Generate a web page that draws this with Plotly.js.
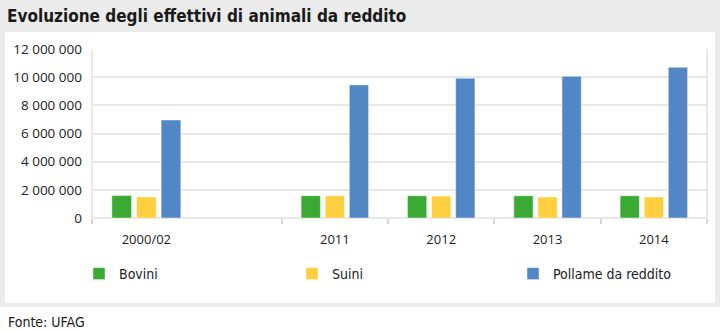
<!DOCTYPE html>
<html>
<head>
<meta charset="utf-8">
<script src="https://cdn.plot.ly/plotly-3.0.1.min.js"></script>
<style>html,body{margin:0;padding:0;background:#fff;}#chart{width:720px;height:332px;}</style>
</head>
<body>
<div id="chart"></div>
<script>
// ---- data ----
const categories = ["2000/02", "2011", "2012", "2013", "2014"];
const seriesNames = ["Bovini", "Suini", "Pollame da reddito"];
const bovini = [1590000, 1585000, 1580000, 1580000, 1580000];
const suini = [1500000, 1580000, 1560000, 1490000, 1490000];
const pollame = [6960000, 9450000, 9920000, 10060000, 10700000];
const titleText = "Evoluzione degli effettivi di animali da reddito";
const sourceText = "Fonte: UFAG";

// ---- layout constants ----
const W = 720, H = 332;
const M = {l: 92, r: 13, t: 49, b: 114};
const PW = W - M.l - M.r, PH = H - M.t - M.b;
const px2x = p => (p - M.l) / PW;
const px2y = p => (H - M.b - p) / PH;
const colors = ["#3aaa35", "#ffcf3f", "#5287c6"];
const legendIds = ["legend", "legend", "legend2"];
const gridColor = "#e8e8e8";
const seriesValues = [bovini, suini, pollame];

const firstCats = categories.slice(0, 1);
const laterCats = categories.slice(1);

const traces = [];
// empty helper trace so the full-width subplot (carrying the y grid) exists
traces.push({type: "scatter", mode: "none", x: [], y: [], xaxis: "x", yaxis: "y",
             showlegend: false, hoverinfo: "skip"});
seriesValues.forEach((vals, i) => {
  traces.push({
    type: "bar", name: seriesNames[i], x: firstCats, y: vals.slice(0, 1),
    xaxis: "x2", yaxis: "y", legendgroup: seriesNames[i], showlegend: false,
    marker: {color: colors[i], line: {color: "rgba(255,255,255,0.45)", width: 1}},
    hoverinfo: "skip"
  });
  traces.push({
    type: "bar", name: seriesNames[i], x: laterCats, y: vals.slice(1),
    xaxis: "x3", yaxis: "y", legendgroup: seriesNames[i], showlegend: true,
    legend: legendIds[i],
    marker: {color: colors[i], line: {color: "rgba(255,255,255,0.45)", width: 1}},
    hoverinfo: "skip"
  });
});

const catAxis = (domain) => ({
  type: "category", domain: domain, anchor: "y",
  tickson: "boundaries", ticks: "outside", ticklen: 5, tickwidth: 2, tickcolor: "#d6d6d6",
  showgrid: false, showline: false, zeroline: false,
  tickfont: {family: "Open Sans", size: 13, color: "#222"},
  ticklabelstandoff: 12, fixedrange: true
});

const legendBase = (xpx, ew) => ({
  orientation: "h", xref: "paper", yref: "paper",
  x: px2x(xpx), xanchor: "left", y: px2y(274), yanchor: "middle",
  entrywidth: ew, entrywidthmode: "pixels",
  font: {family: "DejaVu Sans Condensed", size: 14, color: "#222"},
  bgcolor: "rgba(0,0,0,0)", traceorder: "normal", borderwidth: 0
});

const layout = {
  width: W, height: H,
  margin: M,
  paper_bgcolor: "#ebebeb",
  plot_bgcolor: "rgba(0,0,0,0)",
  separators: ", ",
  barmode: "group", bargap: 0.32, bargroupgap: 0.2,
  showlegend: true,
  title: {
    text: titleText, xref: "container", yref: "container",
    x: 7 / W, xanchor: "left", y: 1 - 16 / H, yanchor: "middle",
    font: {family: "DejaVu Sans Condensed", size: 17, weight: "bold", color: "#1a1a1a"}
  },
  xaxis: {domain: [0, 1], range: [0, 1], type: "linear", anchor: "y", fixedrange: true,
          showticklabels: false, ticks: "", showgrid: false, zeroline: false, showline: false},
  xaxis2: catAxis([0, px2x(200.7)]),
  xaxis3: catAxis([px2x(281.7), 1]),
  yaxis: {
    anchor: "x", range: [0, 12000000], dtick: 2000000, tick0: 0,
    tickformat: ",d", showgrid: true, gridcolor: gridColor, gridwidth: 2,
    zeroline: true, zerolinecolor: gridColor, zerolinewidth: 2,
    showline: false, ticks: "", ticklabelstandoff: 9,
    tickfont: {family: "Open Sans", size: 13.5, color: "#222"}, fixedrange: true
  },
  legend: legendBase(79, 168),
  legend2: legendBase(513, 0),
  shapes: [
    {type: "rect", xref: "paper", yref: "paper", layer: "below",
     x0: px2x(5), x1: px2x(715), y0: px2y(303), y1: px2y(32),
     fillcolor: "#ffffff", line: {width: 0}},
    {type: "rect", xref: "paper", yref: "paper", layer: "below",
     x0: px2x(0), x1: px2x(720), y0: px2y(332), y1: px2y(307),
     fillcolor: "#ffffff", line: {width: 0}},
    {type: "line", xref: "paper", yref: "paper", layer: "below",
     x0: 0, x1: 0, y0: 0, y1: 1, line: {color: gridColor, width: 2}},
    {type: "line", xref: "paper", yref: "paper", layer: "below",
     x0: 1, x1: 1, y0: 0, y1: 1, line: {color: gridColor, width: 2}}
  ],
  annotations: [
    {text: sourceText, xref: "paper", yref: "paper", showarrow: false,
     x: px2x(6), xanchor: "left", y: px2y(322), yanchor: "middle",
     font: {family: "DejaVu Sans Condensed", size: 14, color: "#1a1a1a"}}
  ]
};

Plotly.newPlot("chart", traces, layout, {displayModeBar: false, staticPlot: true});
</script>
</body>
</html>
